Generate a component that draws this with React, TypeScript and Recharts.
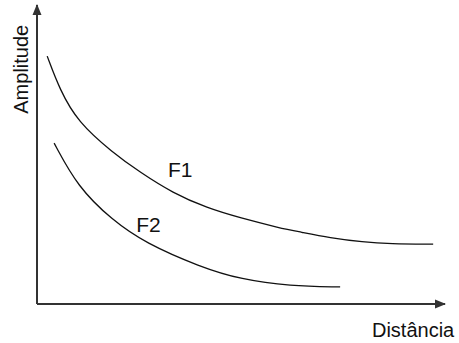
import React from 'react';
import { ComposedChart, Line, XAxis, YAxis, ReferenceDot, ReferenceLine } from 'recharts';

// Decay of amplitude with distance for two sources (arbitrary units, 0–10)
const f1Distance = [0.25, 0.56, 1.0, 1.84, 2.52, 3.33, 4.17, 4.98, 5.96, 6.45, 7.18, 7.99, 8.65, 9.71];
const f1Amplitude = [8.29, 7.16, 6.09, 5.08, 4.41, 3.71, 3.21, 2.88, 2.54, 2.41, 2.21, 2.07, 2.01, 2.0];
const f2Distance = [0.42, 1.0, 1.84, 2.65, 4.0, 5.0, 6.2, 7.43];
const f2Amplitude = [5.38, 3.91, 2.81, 2.04, 1.24, 0.82, 0.6, 0.57];

const seriesNames = ['F1', 'F2'];
const axisTitles = { x: 'Distância', y: 'Amplitude' };

// Label anchors in data units
const f1LabelAt = { x: 3.21, y: 4.25 };
const f2LabelAt = { x: 2.43, y: 2.41 };
const xTitleAt = { x: 8.21, y: -1.1 };
const yTitleAt = { x: -0.22, y: 7.85 };

const f1 = f1Distance.map((x, i) => ({ x, y: f1Amplitude[i] }));
const f2 = f2Distance.map((x, i) => ({ x, y: f2Amplitude[i] }));

const FONT = '"Liberation Sans", Arial, sans-serif';
const INK = '#111111';
const AXIS = '#333333';

const textShape = (text: string, size: number, rotate = false) => (props: any) => {
  const { cx, cy } = props;
  return (
    <text
      x={cx}
      y={cy}
      fontFamily={FONT}
      fontSize={size}
      fill={INK}
      textAnchor={rotate ? 'middle' : 'start'}
      transform={rotate ? `rotate(-90 ${cx} ${cy})` : undefined}
    >
      {text}
    </text>
  );
};

const upArrow = (props: any) => {
  const { cx, cy } = props;
  return <path d={`M${cx} ${cy - 1} L${cx - 4.5} ${cy + 10} L${cx + 4.5} ${cy + 10} Z`} fill={AXIS} />;
};

const rightArrow = (props: any) => {
  const { cx, cy } = props;
  return <path d={`M${cx + 1} ${cy} L${cx - 10} ${cy - 4.5} L${cx - 10} ${cy + 4.5} Z`} fill={AXIS} />;
};

export default function App() {
  return (
    <div style={{ position: 'absolute', left: 0, top: 0, background: '#fff' }}>
      <ComposedChart width={459} height={343} margin={{ top: 5, right: 14, bottom: 39, left: 37 }}>
        <XAxis type="number" dataKey="x" domain={[0, 10]} allowDataOverflow hide />
        <YAxis type="number" dataKey="y" domain={[0, 10]} allowDataOverflow hide />
        <ReferenceLine x={0} stroke={AXIS} strokeWidth={2} ifOverflow="visible" />
        <ReferenceLine y={0} stroke={AXIS} strokeWidth={2} ifOverflow="visible" />
        <Line data={f1} dataKey="y" type="basis" stroke={INK} strokeWidth={1.3} dot={false} isAnimationActive={false} />
        <Line data={f2} dataKey="y" type="basis" stroke={INK} strokeWidth={1.3} dot={false} isAnimationActive={false} />
        <ReferenceDot x={0} y={10} r={0} ifOverflow="visible" shape={upArrow} />
        <ReferenceDot x={10} y={0} r={0} ifOverflow="visible" shape={rightArrow} />
        <ReferenceDot x={f1LabelAt.x} y={f1LabelAt.y} r={0} ifOverflow="visible" shape={textShape(seriesNames[0], 21)} />
        <ReferenceDot x={f2LabelAt.x} y={f2LabelAt.y} r={0} ifOverflow="visible" shape={textShape(seriesNames[1], 21)} />
        <ReferenceDot x={xTitleAt.x} y={xTitleAt.y} r={0} ifOverflow="visible" shape={textShape(axisTitles.x, 20)} />
        <ReferenceDot x={yTitleAt.x} y={yTitleAt.y} r={0} ifOverflow="visible" shape={textShape(axisTitles.y, 20, true)} />
      </ComposedChart>
    </div>
  );
}
